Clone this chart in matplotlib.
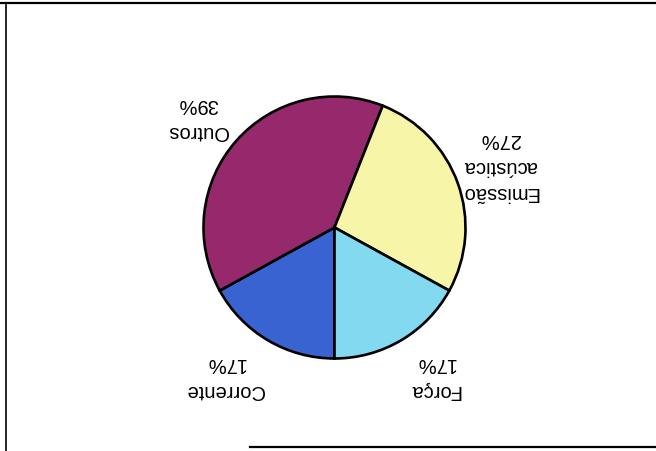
import matplotlib.pyplot as plt
from matplotlib.lines import Line2D

plt.rcParams["font.family"] = ["Liberation Sans", "DejaVu Sans"]

# shares of each cause, in drawing order (clockwise from the bottom)
categories = ["Corrente", "Outros", "Emissão\nacústica", "Força"]
shares = [17, 39, 27, 17]
colors = ["#3a63d2", "#95296b", "#f6f5a8", "#82d9f0"]

# label centres, in pie radii from the centre
label_pos = [(-0.836, -1.134), (-1.042, 0.844), (1.263, 0.477), (0.767, -1.134)]

W, H = 656, 452
fig = plt.figure(figsize=(W / 100, H / 100), dpi=100)

# pie centre and radius in pixels
cx, cy, r = 334.5, 223.5, 131
ax = fig.add_axes([(cx - r) / W, (cy - r) / H, 2 * r / W, 2 * r / H])

labels = [f"{c}\n{v}%" for c, v in zip(categories, shares)]
wedges, texts = ax.pie(
    shares,
    labels=labels,
    colors=colors,
    startangle=270,
    counterclock=False,
    wedgeprops=dict(edgecolor="black", linewidth=1.9),
)
# the page is printed upside down
for t, (x, y) in zip(texts, label_pos):
    t.set_position((x, y))
    t.set_rotation(180)
    t.set_ha("center")
    t.set_va("center")
    t.set_fontsize(14.5)
    t.set_linespacing(1.5)

ax.set_xlim(-1, 1)
ax.set_ylim(-1, 1)
ax.set_aspect("equal")

# scanned frame around the chart
fig.add_artist(Line2D([0, 1], [1 - 4 / H, 1 - 4 / H], color="black", lw=1.6))
fig.add_artist(Line2D([6 / W, 6 / W], [0, 1 - 6 / H], color="black", lw=1.2))
fig.add_artist(Line2D([250 / W, 1], [4 / H, 4 / H], color="black", lw=1.6))

fig.savefig("out.png", dpi=100)
